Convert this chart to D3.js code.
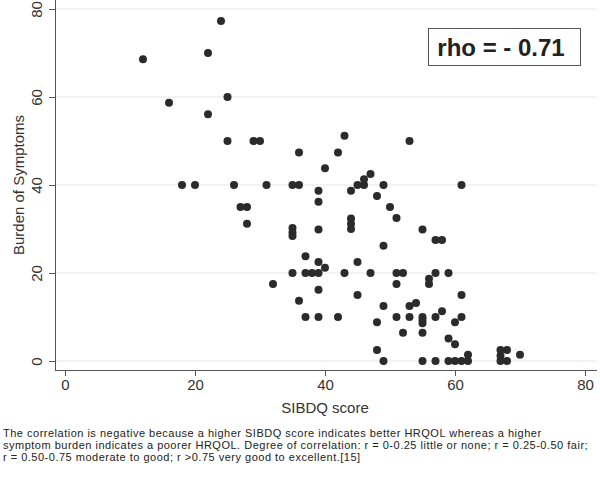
<!DOCTYPE html>
<meta charset="utf-8">
<style>
    body { margin: 0; background: #fff; }
    svg { font-family: "Liberation Sans", Arial, sans-serif; }
    .grid line { stroke: #e6e6e6; stroke-width: 1px; }
    .axis path, .axis line { stroke: #555; }
    .axis text { fill: #333; font-size: 15px; }
</style>
<svg width="600" height="485"></svg>
<script src="https://d3js.org/d3.v7.min.js"></script>
<script>
    // SIBDQ score vs burden of symptoms
    var sibdq = [12, 16, 18, 20, 22, 22, 24, 25, 25, 26, 27, 28, 28, 29, 30, 31, 32,
        35, 35, 35, 35, 35, 36, 36, 36, 37, 37, 37, 38, 39, 39, 39, 39, 39, 39, 39,
        40, 40, 42, 42, 43, 43, 44, 44, 44, 44, 45, 45, 45, 46, 46, 47, 47, 48, 48, 48,
        49, 49, 49, 49, 50, 51, 51, 51, 51, 52, 52, 53, 53, 53, 54,
        55, 55, 55, 55, 55, 55, 56, 56, 57, 57, 57, 57, 58, 58, 59, 59, 59,
        60, 60, 60, 61, 61, 61, 61, 62, 62, 67, 67, 67, 68, 68, 70];
    var burden = [68.6, 58.7, 40, 40, 70, 56.1, 77.3, 60, 50, 40, 35, 35, 31.2, 50, 50, 40, 17.5,
        40, 30.2, 29.2, 28.4, 20, 40, 47.4, 13.7, 23.8, 20, 10, 20, 38.7, 36.2, 29.9, 22.5, 20, 16.2, 10,
        43.8, 21.2, 47.4, 10, 51.2, 20, 38.7, 32.4, 31.2, 30, 40, 22.5, 15, 40, 41.3, 42.5, 20, 37.5, 8.8, 2.5,
        40, 26.2, 12.5, 0, 35, 32.5, 20, 17.5, 10, 20, 6.4, 50, 12.5, 10, 13.2,
        29.9, 10, 9.3, 8.6, 6.4, 0, 18.7, 17.5, 27.5, 20, 10, 0, 27.5, 11.3, 20, 5.1, 0,
        8.8, 3.8, 0, 40, 15, 10, 0, 1.4, 0, 2.5, 1.2, 0, 2.5, 0, 1.4];
    var xTicks = [0, 20, 40, 60, 80];
    var yTicks = [0, 20, 40, 60, 80];
    var rhoLabel = "rho = - 0.71";
    var caption = [
        "The correlation is negative because a higher SIBDQ score indicates better HRQOL whereas a higher",
        "symptom burden indicates a poorer HRQOL. Degree of correlation:  r = 0-0.25 little or none; r = 0.25-0.50 fair;",
        "r = 0.50-0.75 moderate to good; r >0.75 very good to excellent.[15]"
    ];

    var svg = d3.select("svg");

    var x = d3.scaleLinear().domain([0, 80]).range([65, 585]);
    var y = d3.scaleLinear().domain([0, 80]).range([361, 9]);

    var left = 55, right = 597, bottom = 370;

    // grid lines
    svg.append("g")
        .attr("class", "grid")
        .selectAll("line")
        .data(yTicks)
        .enter().append("line")
        .attr("x1", left + 1)
        .attr("x2", right)
        .attr("y1", function(d) { return y(d); })
        .attr("y2", function(d) { return y(d); });

    // y axis
    var yAxis = svg.append("g")
        .attr("class", "axis")
        .attr("transform", "translate(" + left + ",0)")
        .call(d3.axisLeft(y).tickValues(yTicks).tickSize(6).tickSizeOuter(0));
    yAxis.select(".domain").attr("d", "M0.5,0V" + (bottom + 0.5));
    yAxis.selectAll(".tick text")
        .attr("x", null).attr("dy", null)
        .attr("text-anchor", "middle")
        .attr("transform", "translate(-13,0) rotate(-90)");

    // x axis
    var xAxis = svg.append("g")
        .attr("class", "axis")
        .attr("transform", "translate(0," + bottom + ")")
        .call(d3.axisBottom(x).tickValues(xTicks).tickSize(6).tickSizeOuter(0));
    xAxis.select(".domain").attr("d", "M" + left + ",0.5H" + right);
    xAxis.selectAll(".tick text").attr("y", 9).attr("dy", "0.71em");

    svg.append("text")
        .attr("transform", "translate(24,185) rotate(-90)")
        .attr("text-anchor", "middle")
        .attr("fill", "#333")
        .style("font-size", "15px")
        .text("Burden of Symptoms");

    svg.append("text")
        .attr("x", 325)
        .attr("y", 413)
        .attr("text-anchor", "middle")
        .attr("fill", "#333")
        .style("font-size", "15px")
        .text("SIBDQ score");

    // points
    svg.append("g")
        .selectAll("circle")
        .data(d3.range(sibdq.length))
        .enter().append("circle")
        .attr("cx", function(i) { return x(sibdq[i]); })
        .attr("cy", function(i) { return y(burden[i]); })
        .attr("r", 4)
        .attr("fill", "#2b2b2b");

    // rho box
    svg.append("rect")
        .attr("x", 428.5).attr("y", 28.5)
        .attr("width", 152).attr("height", 37)
        .attr("fill", "#fff")
        .attr("stroke", "#555");
    svg.append("text")
        .attr("x", 501).attr("y", 56)
        .attr("text-anchor", "middle")
        .attr("fill", "#222")
        .style("font-size", "24px")
        .style("font-weight", "bold")
        .text(rhoLabel);

    // caption
    svg.append("g")
        .selectAll("text")
        .data(caption)
        .enter().append("text")
        .attr("x", 3)
        .attr("y", function(d, i) { return 437 + i * 12; })
        .attr("fill", "#222")
        .style("font-size", "11px")
        .style("letter-spacing", "0.5px")
        .text(function(d) { return d; });
</script>
